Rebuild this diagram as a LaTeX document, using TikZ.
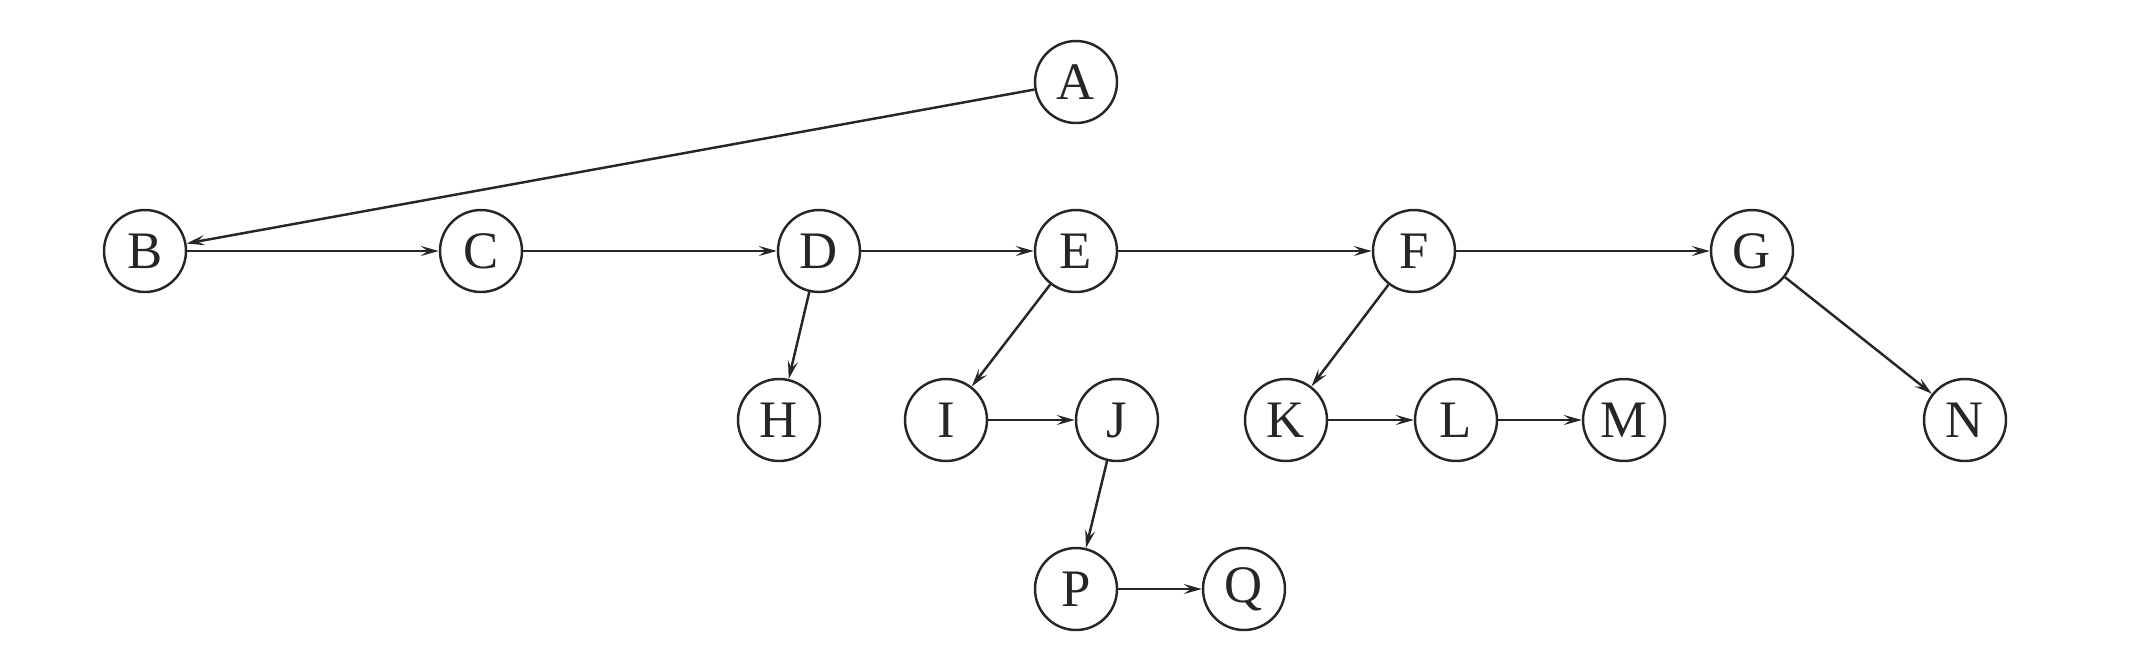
\documentclass[tikz,border=0pt]{standalone}
\usepackage{fontspec}
\setmainfont{Liberation Serif}
\usepackage{tikz}
\usetikzlibrary{arrows.meta, positioning}

\begin{document}
\begin{tikzpicture}[
    vertex/.style={circle, draw, line width=0.7pt, minimum size=0.82cm, inner sep=0pt, font=\fontsize{15}{18}\selectfont},
    line/.style={draw, line width=0.7pt, -{Stealth[length=0.18cm, width=0.1cm, inset=0.07cm]}},
    every path/.style={black!85}, every node/.style={text=black!85}
]
    \useasboundingbox (0,0) rectangle (21.38,-6.6);

    % Root
    \node [vertex] (A) at (10.76,-0.82) {A};

    % Main row
    \node [vertex] (B) at (1.45,-2.51) {B};
    \node [vertex] (C) at (4.81,-2.51) {C};
    \node [vertex] (D) at (8.19,-2.51) {D};
    \node [vertex] (E) at (10.76,-2.51) {E};
    \node [vertex] (F) at (14.14,-2.51) {F};
    \node [vertex] (G) at (17.52,-2.51) {G};

    % Second row
    \node [vertex] (H) at (7.79,-4.20) {H};
    \node [vertex] (I) at (9.46,-4.20) {I};
    \node [vertex] (J) at (11.17,-4.20) {J};
    \node [vertex] (K) at (12.86,-4.20) {K};
    \node [vertex] (L) at (14.56,-4.20) {L};
    \node [vertex] (M) at (16.24,-4.20) {M};
    \node [vertex] (N) at (19.65,-4.20) {N};

    % Third row
    \node [vertex] (P) at (10.76,-5.89) {P};
    \node [vertex] (Q) at (12.44,-5.89) {Q};

    % Connections
    \path [line] (A) -- (B);
    \path [line] (B) -- (C);
    \path [line] (C) -- (D);
    \path [line] (D) -- (E);
    \path [line] (E) -- (F);
    \path [line] (F) -- (G);

    \path [line] (D) -- (H);
    \path [line] (E) -- (I);
    \path [line] (I) -- (J);
    \path [line] (J) -- (P);
    \path [line] (P) -- (Q);
    \path [line] (F) -- (K);
    \path [line] (K) -- (L);
    \path [line] (L) -- (M);
    \path [line] (G) -- (N);

\end{tikzpicture}
\end{document}
